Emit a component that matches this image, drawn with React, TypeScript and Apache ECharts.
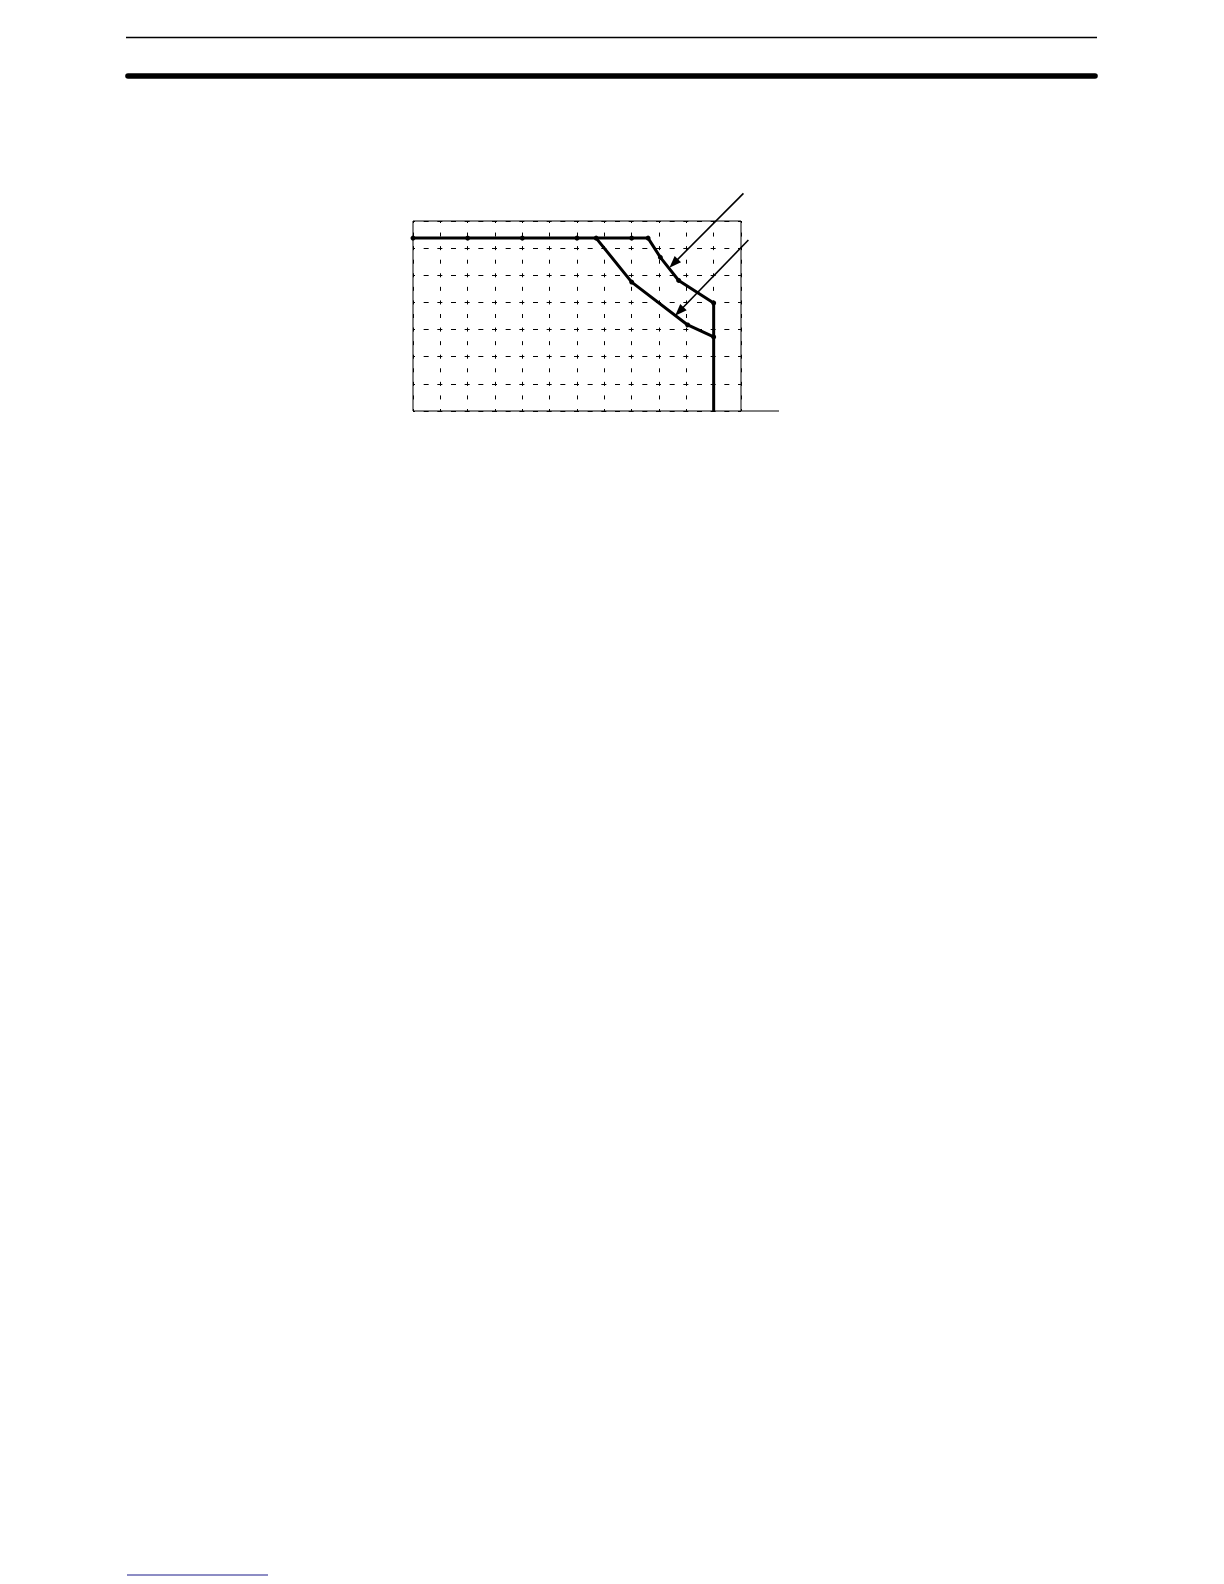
import { useEffect, useRef } from 'react';
import * as echarts from 'echarts/core';
import { LineChart } from 'echarts/charts';
import { GridComponent, GraphicComponent } from 'echarts/components';
import { SVGRenderer } from 'echarts/renderers';

echarts.use([GridComponent, GraphicComponent, LineChart, SVGRenderer]);

// curva externa: patamar + queda + vertical até zero
const externaX = [0, 2, 4, 6, 8, 8.6, 9.05, 9.72, 11, 11];
const externaY = [6.37, 6.37, 6.37, 6.37, 6.37, 6.37, 5.66, 4.81, 3.98, 0];

// curva interna
const internaX = [6.7, 8, 10.05, 11];
const internaY = [6.37, 4.75, 3.17, 2.73];

// setas de anotação (cauda -> ponta), em unidades do gráfico
const setaCaudaX = [12.09, 12.27];
const setaCaudaY = [8.02, 6.3];
const setaPontaX = [9.38, 9.59];
const setaPontaY = [5.28, 3.51];

const X_MAX = 12;
const Y_MAX = 7;

const GRID = { left: 413, top: 221, width: 328, height: 190 };

export default function App() {
  const divRef = useRef<HTMLDivElement>(null);

  useEffect(() => {
    if (!divRef.current) return;
    const chart = echarts.init(divRef.current, undefined, { renderer: 'svg' });

    const celX = GRID.width / X_MAX;
    const celY = GRID.height / Y_MAX;
    const traco = 4;

    chart.setOption({
      animation: false,
      grid: {
        ...GRID,
        show: true,
        borderColor: '#000',
        borderWidth: 1,
      },
      xAxis: {
        type: 'value',
        min: 0,
        max: X_MAX,
        interval: 1,
        axisLine: { show: false },
        axisTick: { show: false },
        axisLabel: { show: false },
        splitLine: {
          show: true,
          lineStyle: {
            color: '#000',
            width: 1,
            type: [traco, celY / 2 - traco],
            dashOffset: traco / 2,
          },
        },
      },
      yAxis: {
        type: 'value',
        min: 0,
        max: Y_MAX,
        interval: 1,
        axisLine: { show: false },
        axisTick: { show: false },
        axisLabel: { show: false },
        splitLine: {
          show: true,
          lineStyle: {
            color: '#000',
            width: 1,
            type: [traco + 1, celX / 2 - traco - 1],
            dashOffset: (traco + 1) / 2,
          },
        },
      },
      series: [
        {
          type: 'line',
          data: externaX.map((x, i) =>
            i === externaX.length - 1
              ? { value: [x, externaY[i]], symbol: 'none' }
              : [x, externaY[i]],
          ),
          symbol: 'circle',
          symbolSize: 5,
          itemStyle: { color: '#000' },
          lineStyle: { color: '#000', width: 3 },
          clip: false,
          z: 3,
        },
        {
          type: 'line',
          data: internaX.map((x, i) => [x, internaY[i]]),
          symbol: 'circle',
          symbolSize: 5,
          itemStyle: { color: '#000' },
          lineStyle: { color: '#000', width: 3 },
          clip: false,
          z: 3,
        },
      ],
    });

    const fimGrade = GRID.left + GRID.width;
    const baseY = GRID.top + GRID.height;

    const setas: object[] = [];
    setaCaudaX.forEach((_, i) => {
      const [sx, sy] = chart.convertToPixel({ gridIndex: 0 }, [setaCaudaX[i], setaCaudaY[i]]) as number[];
      const [tx, ty] = chart.convertToPixel({ gridIndex: 0 }, [setaPontaX[i], setaPontaY[i]]) as number[];
      const len = Math.hypot(sx - tx, sy - ty);
      const ux = (sx - tx) / len;
      const uy = (sy - ty) / len;
      const L = 12;
      const W = 4.5;
      setas.push({
        type: 'line',
        shape: { x1: sx, y1: sy, x2: tx + ux * L * 0.6, y2: ty + uy * L * 0.6 },
        style: { stroke: '#000', lineWidth: 1.6 },
        z: 10,
      });
      setas.push({
        type: 'polygon',
        shape: {
          points: [
            [tx, ty],
            [tx + ux * L - uy * W, ty + uy * L + ux * W],
            [tx + ux * L + uy * W, ty + uy * L - ux * W],
          ],
        },
        style: { fill: '#000' },
        z: 10,
      });
    });

    chart.setOption({
      graphic: [
        // réguas do cabeçalho
        {
          type: 'line',
          shape: { x1: 126, y1: 37.5, x2: 1097, y2: 37.5 },
          style: { stroke: '#000', lineWidth: 1.7 },
        },
        {
          type: 'line',
          shape: { x1: 128, y1: 76, x2: 1095, y2: 76 },
          style: { stroke: '#000', lineWidth: 5.6, lineCap: 'round' },
        },
        // prolongamento do eixo x
        {
          type: 'line',
          shape: { x1: fimGrade, y1: baseY, x2: 779, y2: baseY },
          style: { stroke: '#000', lineWidth: 1 },
        },
        // sublinhado azul no rodapé
        {
          type: 'line',
          shape: { x1: 127, y1: 1575, x2: 268, y2: 1575 },
          style: { stroke: '#1a1a8a', lineWidth: 1 },
        },
        ...setas,
      ],
    });

    return () => chart.dispose();
  }, []);

  return (
    <div
      ref={divRef}
      style={{ position: 'absolute', left: 0, top: 0, width: '1224px', height: '1584px', background: '#fff' }}
    />
  );
}
